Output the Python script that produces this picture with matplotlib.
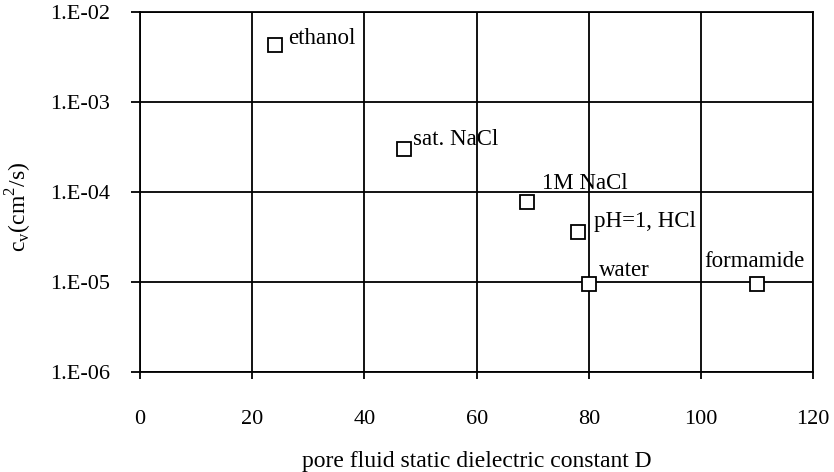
import numpy as np
import matplotlib.pyplot as plt

# pore fluid data
fluids = ["ethanol", "sat. NaCl", "1M NaCl", "pH=1, HCl", "water", "formamide"]
dielectric = [24, 47, 69, 78, 80, 110]
cv = [4.3e-3, 3.0e-4, 7.9e-5, 3.6e-5, 9.6e-6, 9.6e-6]

plt.rcParams["font.family"] = ["Liberation Serif", "DejaVu Serif"]

fig = plt.figure(figsize=(8.34, 4.72), dpi=100)
ax = fig.add_axes([0.168, 0.211, 0.807, 0.763])

ax.plot(dielectric, cv, linestyle="None", marker="s", markersize=10,
        markerfacecolor="white", markeredgecolor="black", markeredgewidth=1.3, zorder=3)

# label offsets in points (dx, dy, ha)
offsets = {
    "ethanol": (10, 5, "left"),
    "sat. NaCl": (7, 7, "left"),
    "1M NaCl": (11, 13, "left"),
    "pH=1, HCl": (12, 8, "left"),
    "water": (7, 10, "left"),
    "formamide": (-2, 16, "center"),
}
for name, x, y in zip(fluids, dielectric, cv):
    dx, dy, ha = offsets[name]
    ax.annotate(name, (x, y), xytext=(dx, dy), textcoords="offset points",
                ha=ha, va="center", fontsize=16.5)

ax.set_yscale("log")
ax.set_xlim(0, 120)
ax.set_ylim(1e-6, 1e-2)
ax.set_xticks(np.arange(0, 121, 20))
ax.set_yticks([1e-6, 1e-5, 1e-4, 1e-3, 1e-2])
ax.set_yticklabels(["1.E-06", "1.E-05", "1.E-04", "1.E-03", "1.E-02"])
ax.minorticks_off()
ax.tick_params(axis="both", direction="out", width=1.3, labelsize=16, color="black")
ax.tick_params(axis="x", length=5, pad=22)
ax.tick_params(axis="y", length=6.5, pad=15)
ax.grid(True, color="black", linewidth=1.3)
for s in ax.spines.values():
    s.set_linewidth(1.3)
    s.set_color("black")

ax.set_xlabel("pore fluid static dielectric constant D", fontsize=17, labelpad=16)
ax.set_ylabel(r"c$_\mathregular{v}$(cm$^\mathregular{2}$/s)", fontsize=17)
ax.yaxis.set_label_coords(-0.157, 0.46)

fig.savefig("out.png", dpi=100)
